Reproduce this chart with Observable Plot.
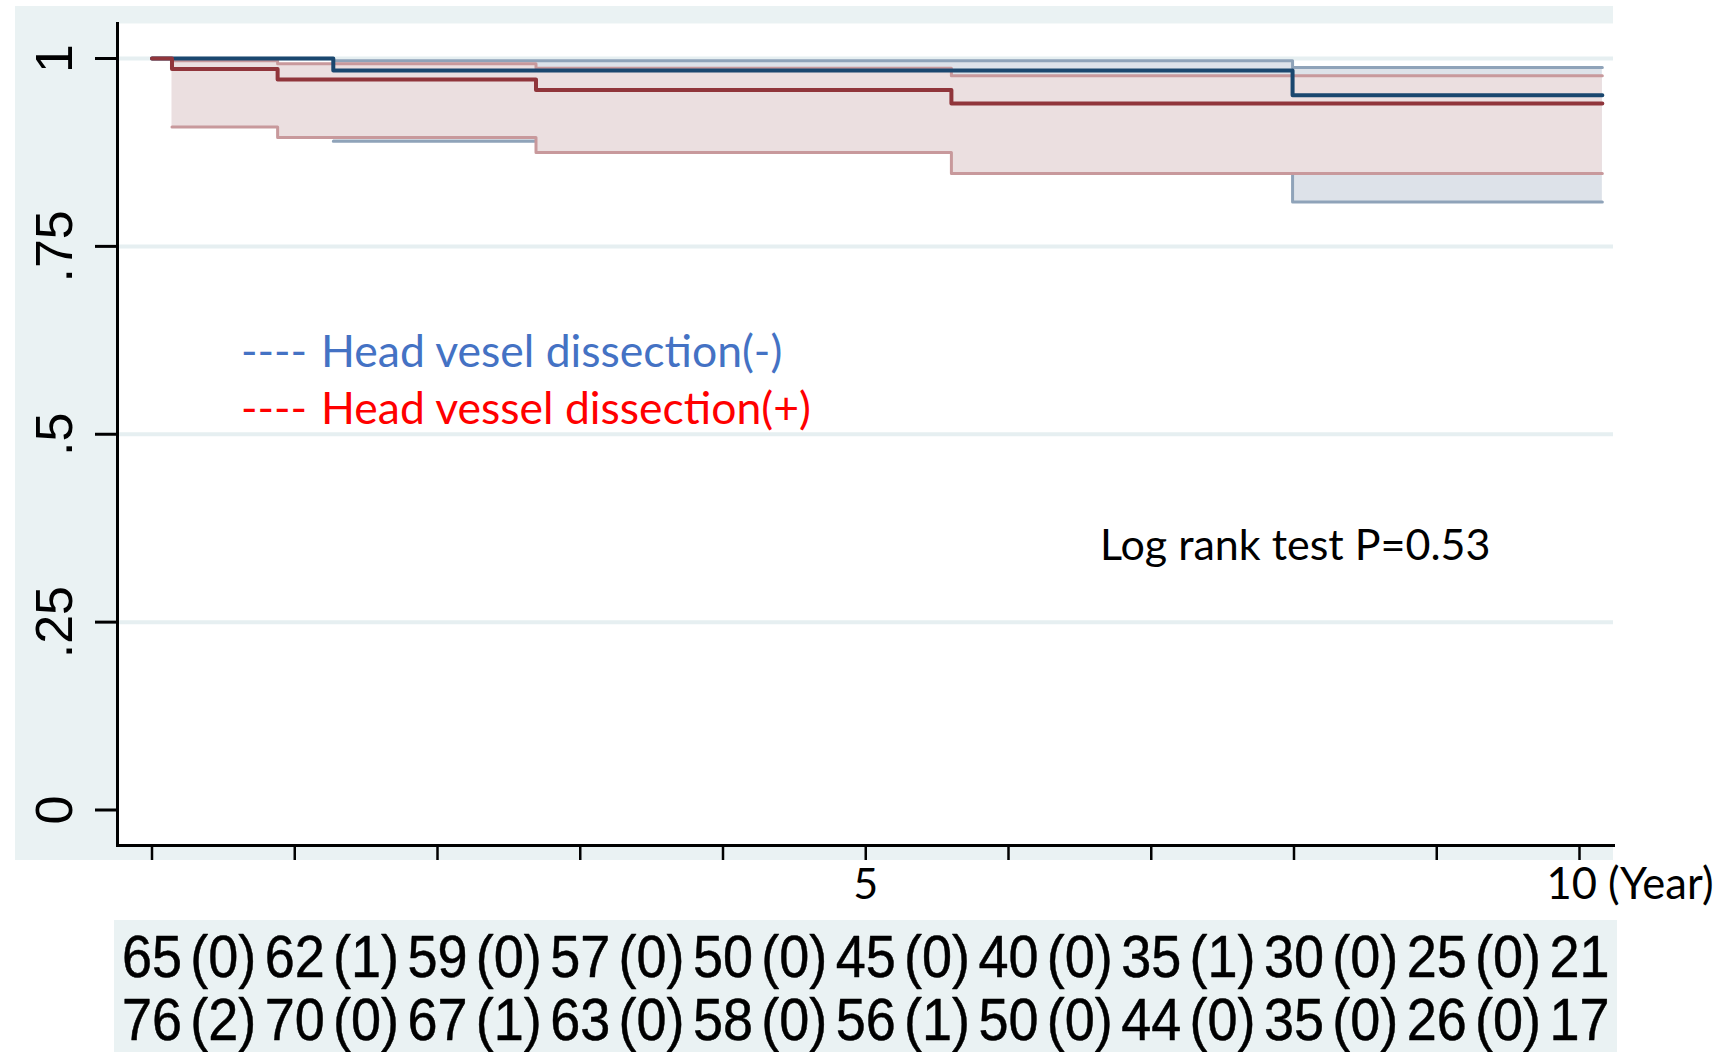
<!DOCTYPE html>
<html>
<head>
<meta charset="utf-8">
<script src="https://cdn.jsdelivr.net/npm/d3@7"></script>
<script src="https://cdn.jsdelivr.net/npm/@observablehq/plot@0.6"></script>
<style>
  html, body { margin: 0; padding: 0; background: #ffffff; }
  #wrap { position: relative; width: 1734px; height: 1052px; overflow: hidden; background: #ffffff; }
  .bg { position: absolute; background: #EAF2F3; }
  .txt { position: absolute; font-family: Lato, "Open Sans", sans-serif; font-size: 44.5px; line-height: 44px; white-space: pre; }
  #chart, #table { position: absolute; left: 0; }
  #chart svg, #table svg { max-width: none !important; }
  #table svg { transform: scaleX(0.9); transform-origin: 0 0; }
</style>
</head>
<body>
<div id="wrap">
  <div class="bg" style="left:15px; top:6px; width:1598px; height:854px;"></div>
  <div class="bg" style="left:114px; top:920px; width:1503px; height:132px;"></div>
  <div id="chart" style="top:0px;"></div>
  <div id="table" style="top:905px;"></div>
  <div class="txt" style="left:241px; top:328px; color:#4472C4;">----</div>
  <div class="txt" style="left:321px; top:328px; color:#4472C4;">Head vesel dissection(-)</div>
  <div class="txt" style="left:241px; top:385px; color:#FF0000;">----</div>
  <div class="txt" style="left:321px; top:385px; color:#FF0000;">Head vessel dissection(+)</div>
  <div class="txt" style="left:1100px; top:522px; color:#000000; font-size:43px;">Log rank test P=0.53</div>
</div>
<script>
// ---- Data ----
// Kaplan–Meier step curves (time in years)
const negTime  = [0, 1.27, 7.99, 10.16];
const negSurv  = [1, 0.984, 0.951, 0.951];
const negCITime = [1.27, 7.99, 10.16];
const negLower = [0.890, 0.809, 0.809];
const negUpper = [0.997, 0.988, 0.988];

const posTime  = [0, 0.14, 0.88, 2.69, 5.60, 10.16];
const posSurv  = [1, 0.986, 0.972, 0.958, 0.940, 0.940];
const posCITime = [0.14, 0.88, 2.69, 5.60, 10.16];
const posLower = [0.909, 0.895, 0.875, 0.847, 0.847];
const posUpper = [0.997, 0.993, 0.987, 0.977, 0.977];

// Axis ticks
const yTicks  = [0, 0.25, 0.5, 0.75, 1];
const yLabels = ["0", ".25", ".5", ".75", "1"];
const xTicks  = [0, 1, 2, 3, 4, 5, 6, 7, 8, 9, 10];
const xLabelValues = [5, 10];
const xLabelTexts  = ["5", "10 (Year)"];

// Number-at-risk table
const riskYears  = [0, 1, 2, 3, 4, 5, 6, 7, 8, 9, 10];
const atRiskNeg  = [65, 62, 59, 57, 50, 45, 40, 35, 30, 25, 21];
const eventsNeg  = [0, 1, 0, 0, 0, 0, 0, 1, 0, 0];
const atRiskPos  = [76, 70, 67, 63, 58, 56, 50, 44, 35, 26, 17];
const eventsPos  = [2, 0, 1, 0, 0, 1, 0, 0, 0, 0];
const groups = ["Head vessel dissection(-)", "Head vessel dissection(+)"];

// ---- Tables built from the arrays ----
const negLine = negTime.map((t, i) => ({t, s: negSurv[i]}));
const posLine = posTime.map((t, i) => ({t, s: posSurv[i]}));
const negCI = negCITime.map((t, i) => ({t, lo: negLower[i], hi: negUpper[i]}));
const posCI = posCITime.map((t, i) => ({t, lo: posLower[i], hi: posUpper[i]}));
const yLab = yTicks.map((v, i) => ({v, label: yLabels[i]}));
const xLab = xLabelValues.map((v, i) => ({v, label: xLabelTexts[i], anchor: i === 0 ? "middle" : "start"}));

const navy = "#1A476F", maroon = "#90353B";
const xRange = [151.5, 1579];

const chart = Plot.plot({
  width: 1734,
  height: 905,
  marginLeft: 117,
  marginRight: 121,
  marginTop: 23,
  marginBottom: 60,
  style: {background: "transparent", overflow: "visible"},
  x: {domain: [0, 10], range: xRange},
  y: {domain: [0, 1], range: [809.5, 58]},
  marks: [
    Plot.frame({fill: "white", stroke: null}),
    Plot.gridY({ticks: [0.25, 0.5, 0.75, 1], stroke: "#E6EFF1", strokeOpacity: 1, strokeWidth: 4}),
    // confidence bands
    Plot.areaY(negCI, {x: "t", y1: "lo", y2: "hi", curve: "step-after", fill: "#DDE2E9"}),
    Plot.line(negCI, {x: "t", y: "lo", curve: "step-after", stroke: "#8FA3B9", strokeWidth: 3}),
    Plot.line(negCI, {x: "t", y: "hi", curve: "step-after", stroke: "#8FA3B9", strokeWidth: 3}),
    Plot.areaY(posCI, {x: "t", y1: "lo", y2: "hi", curve: "step-after", fill: "#EBDFE0"}),
    Plot.line(posCI, {x: "t", y: "lo", curve: "step-after", stroke: "#C8999C", strokeWidth: 3}),
    Plot.line(posCI, {x: "t", y: "hi", curve: "step-after", stroke: "#C8999C", strokeWidth: 3}),
    // survival curves
    Plot.line(negLine, {x: "t", y: "s", curve: "step-after", stroke: navy, strokeWidth: 4}),
    Plot.line(posLine, {x: "t", y: "s", curve: "step-after", stroke: maroon, strokeWidth: 4}),
    // axes
    Plot.axisY({ticks: yTicks, tickSize: 22, tickFormat: () => "", stroke: "black", strokeWidth: 3}),
    Plot.axisX({ticks: xTicks, tickSize: 15, tickFormat: () => "", stroke: "black", strokeWidth: 2.5}),
    Plot.frame({anchor: "left", stroke: "black", strokeWidth: 3}),
    Plot.frame({anchor: "bottom", stroke: "black", strokeWidth: 3}),
    Plot.text(yLab, {
      y: "v", text: "label", frameAnchor: "left", dx: -62, rotate: -90,
      textAnchor: "middle", lineAnchor: "middle",
      fontSize: 52, fontFamily: "Liberation Sans, Arial, sans-serif", fill: "black"
    }),
    Plot.text(xLab.filter(d => d.anchor === "middle"), {
      x: "v", text: "label", frameAnchor: "bottom", dy: 40, textAnchor: "middle", lineAnchor: "middle",
      fontSize: 43, fontFamily: "Lato, sans-serif", fill: "black"
    }),
    Plot.text(xLab.filter(d => d.anchor === "start"), {
      x: "v", text: "label", frameAnchor: "bottom", dy: 40, dx: -33, textAnchor: "start", lineAnchor: "middle",
      fontSize: 43.5, fontFamily: "Lato, sans-serif", fill: "black"
    })
  ]
});
document.getElementById("chart").appendChild(chart);

// Risk table (SVG is condensed horizontally by CSS, so its x range is widened by the same factor)
const squeeze = 0.9;
const riskRows = [];
groups.forEach((g, gi) => {
  const ar = gi === 0 ? atRiskNeg : atRiskPos;
  const ev = gi === 0 ? eventsNeg : eventsPos;
  riskYears.forEach((yr, i) => riskRows.push({x: yr, g, label: String(ar[i])}));
  ev.forEach((e, i) => riskRows.push({x: riskYears[i] + 0.5, g, label: "(" + e + ")"}));
});

const table = Plot.plot({
  width: Math.round(1734 / squeeze),
  height: 147,
  margin: 0,
  style: {background: "transparent", overflow: "visible", maxWidth: "none"},
  x: {domain: [0, 10], range: xRange.map(v => v / squeeze), axis: null},
  y: {type: "point", domain: groups, range: [52, 115], padding: 0, axis: null},
  marks: [
    Plot.text(riskRows, {
      x: "x", y: "g", text: "label", textAnchor: "middle", lineAnchor: "middle",
      fontSize: 60, fontFamily: "Liberation Sans, Arial, sans-serif", fill: "black",
      stroke: "black", strokeWidth: 0.5
    })
  ]
});
document.getElementById("table").appendChild(table);
</script>
</body>
</html>
